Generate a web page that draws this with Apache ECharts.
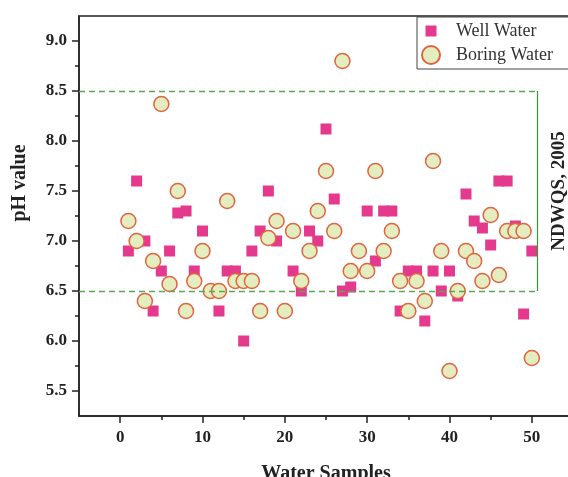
<!DOCTYPE html>
<html>
<head>
<meta charset="utf-8">
<script src="https://cdn.jsdelivr.net/npm/echarts@6/dist/echarts.min.js"></script>
<style>
    html, body { margin: 0; padding: 0; background: #fff; }
    #chart { width: 568px; height: 477px; }
</style>
</head>
<body>
<div id="chart"></div>
<script>
// pH of each water sample (index 0 = sample 1), null where the square is hidden
var wellPH = [6.9, 7.6, 7.0, 6.3, 6.7, 6.9, 7.28, 7.3, 6.7, 7.1,
    null, 6.3, 6.7, 6.7, 6.0, 6.9, 7.1, 7.5, 7.0, null,
    6.7, 6.5, 7.1, 7.0, 8.12, 7.42, 6.5, 6.54, null, 7.3,
    6.8, 7.3, 7.3, 6.3, 6.7, 6.7, 6.2, 6.7, 6.5, 6.7,
    6.45, 7.47, 7.2, 7.13, 6.96, 7.6, 7.6, 7.15, 6.27, 6.9];
var boringPH = [7.2, 7.0, 6.4, 6.8, 8.37, 6.57, 7.5, 6.3, 6.6, 6.9,
    6.5, 6.5, 7.4, 6.6, 6.6, 6.6, 6.3, 7.03, 7.2, 6.3,
    7.1, 6.6, 6.9, 7.3, 7.7, 7.1, 8.8, 6.7, 6.9, 6.7,
    7.7, 6.9, 7.1, 6.6, 6.3, 6.6, 6.4, 7.8, 6.9, 5.7,
    6.5, 6.9, 6.8, 6.6, 7.26, 6.66, 7.1, 7.1, 7.1, 5.83];

var xTicks = [0, 10, 20, 30, 40, 50];
var xMinorTicks = [5, 15, 25, 35, 45];
var yTicks = [5.5, 6.0, 6.5, 7.0, 7.5, 8.0, 8.5, 9.0];
var yMinorTicks = [5.75, 6.25, 6.75, 7.25, 7.75, 8.25, 8.75];

// NDWQS 2005 permissible range
var limitLow = 6.5;
var limitHigh = 8.5;
var limitEndX = 50.65;

var xMin = -5, xMax = 55, yMin = 5.25, yMax = 9.25;

function toPoints(values) {
    var pts = [];
    values.forEach(function(v, i) {
        if (v !== null) {
            pts.push([i + 1, v]);
        }
    });
    return pts;
}

var serif = "Liberation Serif";
var dashGreen = "#5aaa4c";

var myChart = echarts.init(document.getElementById("chart"));
var option = {
    animation: false,
    grid: {
        left: 79,
        top: 16,
        right: -5,
        bottom: 61,
        outerBoundsMode: "none",
        show: true,
        borderColor: "#222",
        borderWidth: 1.5
    },
    legend: {
        orient: "vertical",
        left: 417,
        top: 17,
        padding: [5, 30, 4, 4],
        itemGap: 5,
        itemWidth: 40,
        itemHeight: 18,
        borderColor: "#444",
        borderWidth: 1,
        textStyle: { fontFamily: serif, fontSize: 18, color: "#333" },
        data: [
            { name: "Well Water", icon: "path://M0,0 M18,18 M3.5,3.5 L14.5,3.5 L14.5,14.5 L3.5,14.5 Z" },
            { name: "Boring Water" }
        ]
    },
    xAxis: [
        {
            type: "value",
            min: xMin,
            max: xMax,
            name: "Water Samples",
            nameLocation: "middle",
            nameGap: 48,
            nameTextStyle: { fontFamily: serif, fontSize: 20, fontWeight: "bold", color: "#222" },
            axisLine: { show: true, onZero: false, lineStyle: { color: "#222", width: 1.5 } },
            axisTick: { show: true, length: 7, customValues: xTicks, lineStyle: { color: "#222", width: 1.5 } },
            axisLabel: {
                customValues: xTicks,
                margin: 13,
                fontFamily: serif,
                fontSize: 17,
                fontWeight: "bold",
                color: "#222"
            },
            splitLine: { show: false }
        },
        {
            type: "value",
            position: "bottom",
            min: xMin,
            max: xMax,
            axisLine: { show: false, onZero: false },
            axisTick: { show: true, length: 4, customValues: xMinorTicks, lineStyle: { color: "#222", width: 1.5 } },
            axisLabel: { show: false },
            splitLine: { show: false }
        }
    ],
    yAxis: [
        {
            type: "value",
            min: yMin,
            max: yMax,
            axisLine: { show: true, onZero: false, lineStyle: { color: "#222", width: 1.5 } },
            axisTick: { show: true, length: 7, customValues: yTicks, lineStyle: { color: "#222", width: 1.5 } },
            axisLabel: {
                customValues: yTicks,
                margin: 12,
                fontFamily: serif,
                fontSize: 17,
                fontWeight: "bold",
                color: "#222",
                formatter: function(v) {
                    return v.toFixed(1);
                }
            },
            splitLine: { show: false }
        },
        {
            type: "value",
            position: "left",
            min: yMin,
            max: yMax,
            axisLine: { show: false, onZero: false },
            axisTick: { show: true, length: 4, customValues: yMinorTicks, lineStyle: { color: "#222", width: 1.5 } },
            axisLabel: { show: false },
            splitLine: { show: false }
        }
    ],
    graphic: [
        {
            type: "text",
            x: 20,
            y: 183,
            rotation: Math.PI / 2,
            style: {
                text: "pH value",
                fontFamily: serif,
                fontSize: 20,
                fontWeight: "bold",
                fill: "#222",
                textAlign: "center",
                textVerticalAlign: "middle"
            }
        },
        {
            type: "text",
            x: 559,
            y: 191,
            rotation: Math.PI / 2,
            style: {
                text: "NDWQS, 2005",
                fontFamily: serif,
                fontSize: 19,
                fontWeight: "bold",
                fill: "#222",
                textAlign: "center",
                textVerticalAlign: "middle"
            }
        }
    ],
    series: [
        {
            name: "Well Water",
            type: "scatter",
            symbol: "rect",
            symbolSize: 11,
            itemStyle: { color: "#e5398d", opacity: 1 },
            data: toPoints(wellPH),
            markLine: {
                silent: true,
                symbol: ["none", "none"],
                label: { show: false },
                lineStyle: { color: dashGreen, type: [6, 4], width: 1.4 },
                data: [
                    [{ coord: [xMin, limitHigh] }, { coord: [limitEndX, limitHigh] }],
                    [{ coord: [xMin, limitLow] }, { coord: [limitEndX, limitLow] }],
                    [
                        { coord: [limitEndX, limitLow], lineStyle: { type: "solid", color: "#3a9440", width: 1.2 } },
                        { coord: [limitEndX, limitHigh] }
                    ]
                ]
            }
        },
        {
            name: "Boring Water",
            type: "scatter",
            symbol: "circle",
            symbolSize: 15,
            itemStyle: { color: "#e3edbf", borderColor: "#e0643f", borderWidth: 1.5, opacity: 1 },
            data: toPoints(boringPH)
        }
    ]
};
myChart.setOption(option);
</script>
</body>
</html>
